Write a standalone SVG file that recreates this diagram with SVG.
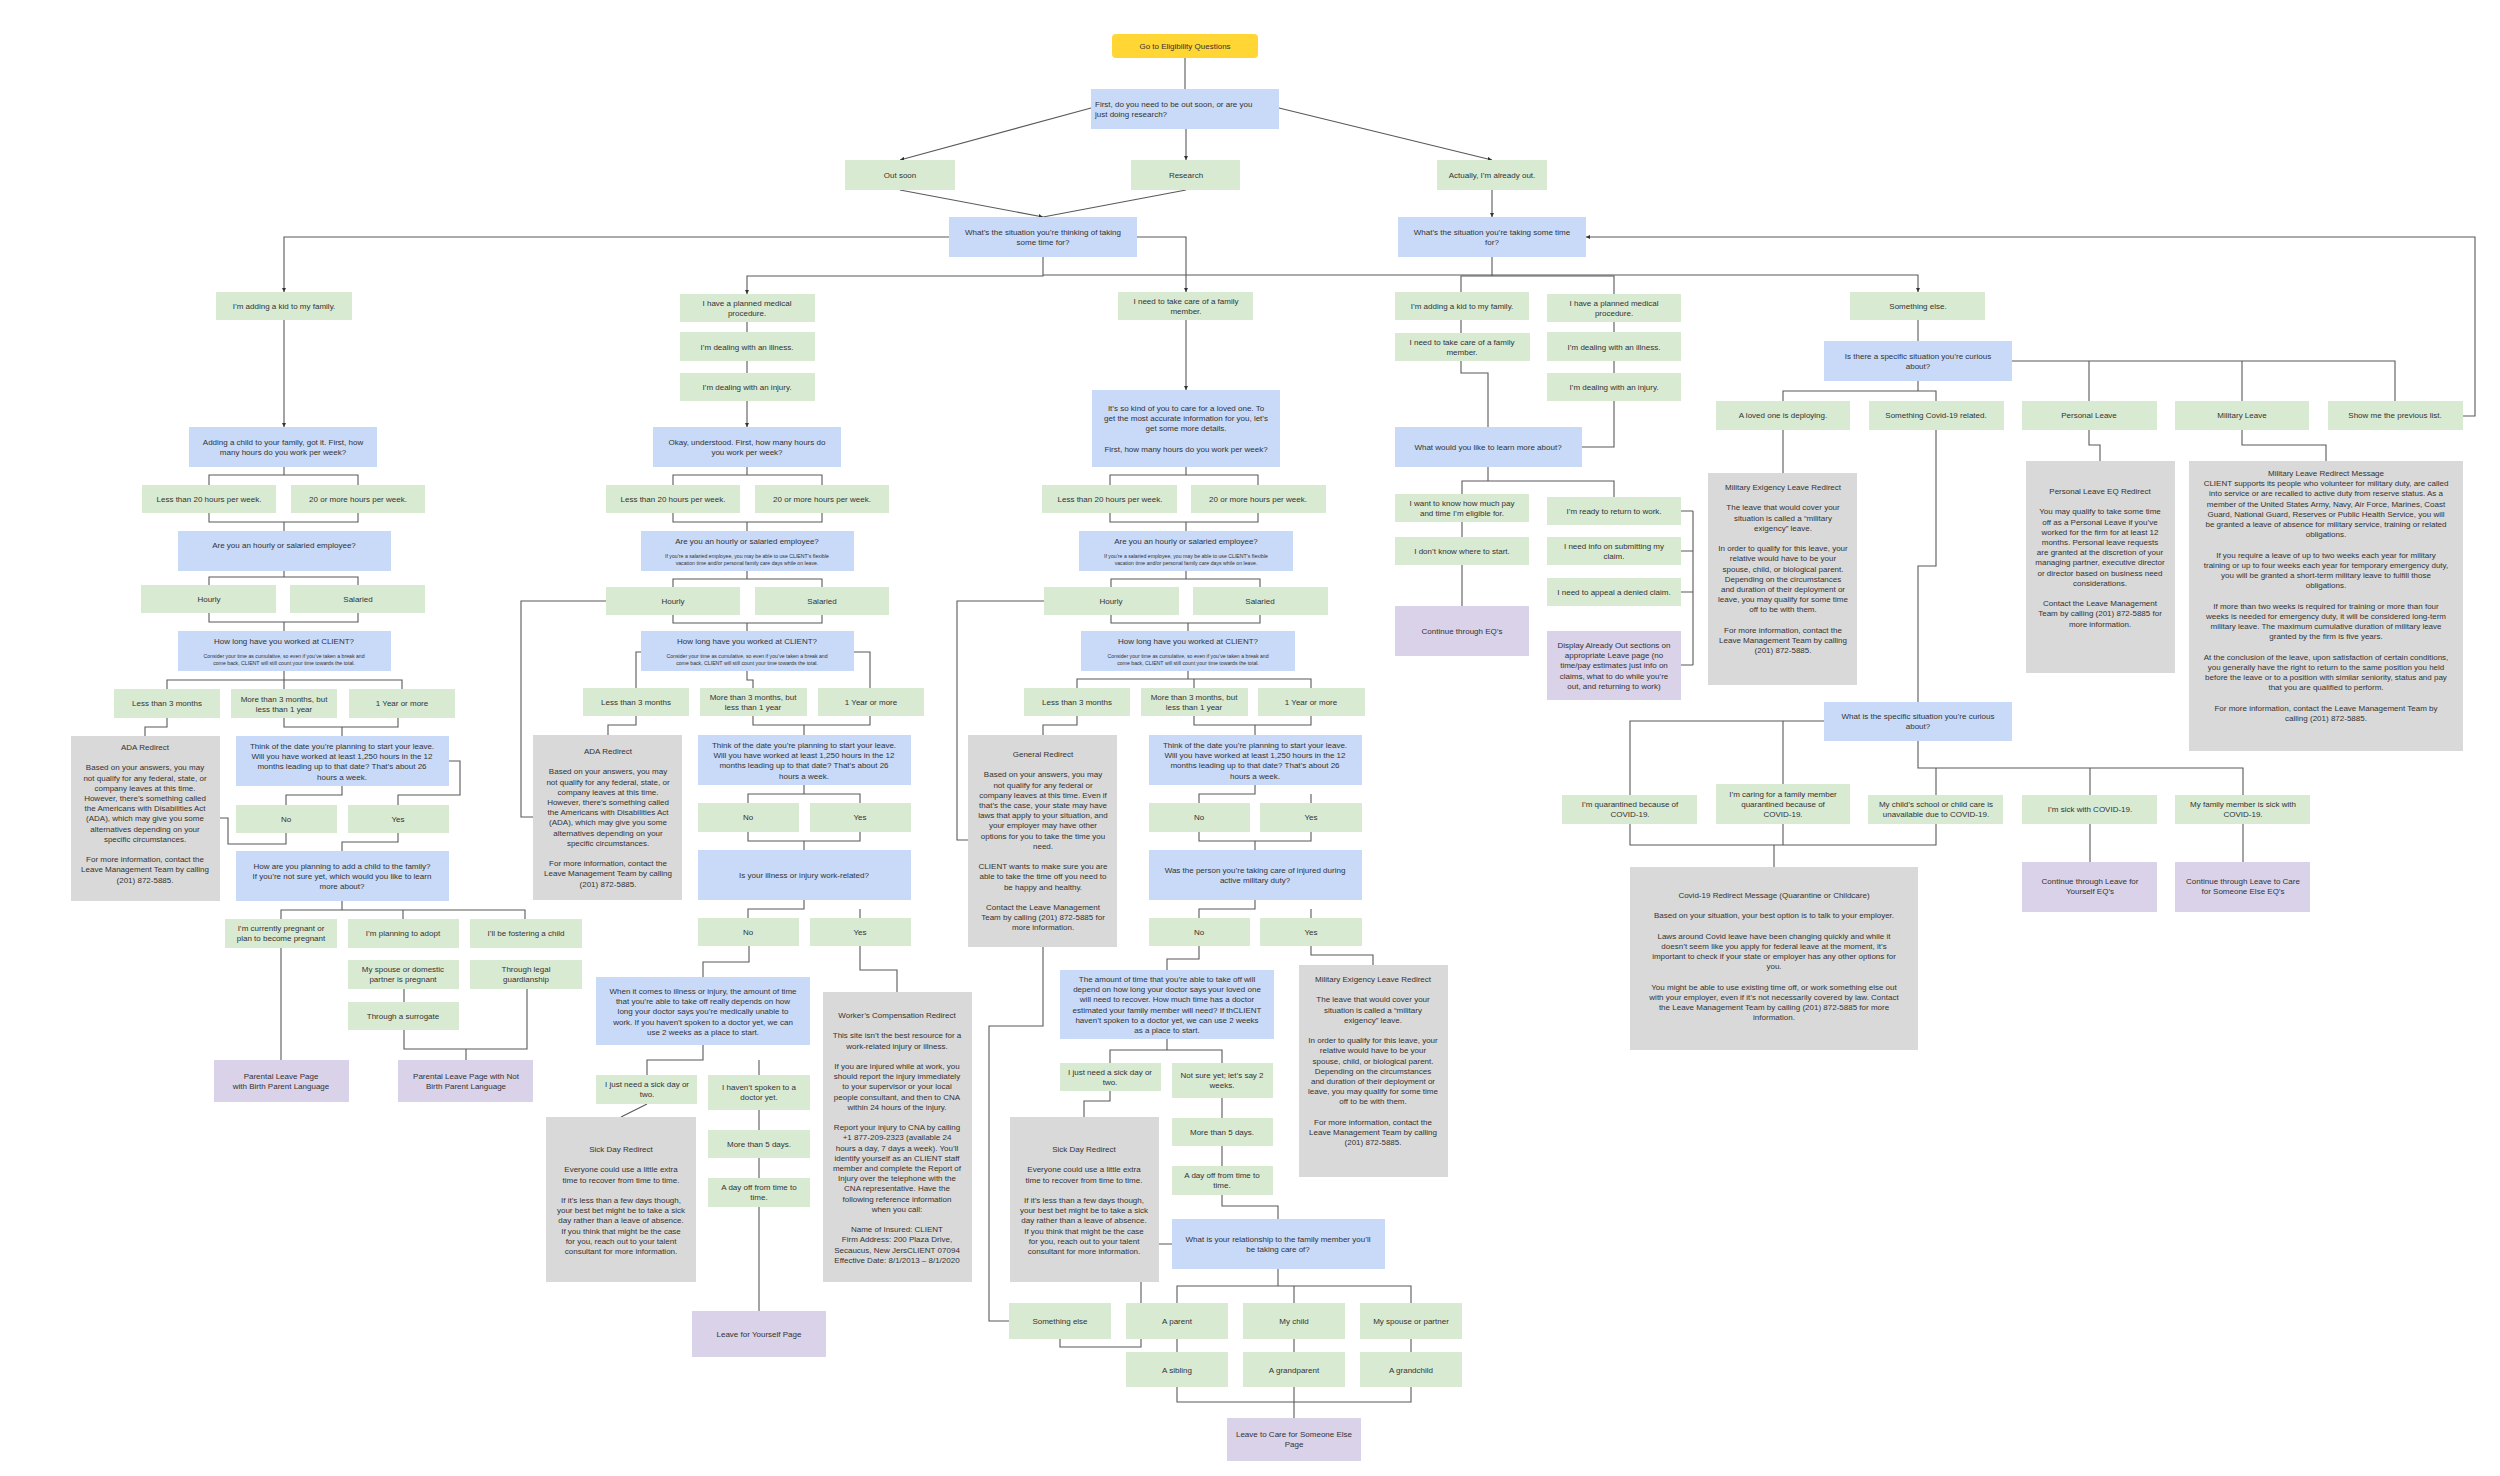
<svg xmlns="http://www.w3.org/2000/svg" width="2500" height="1476" viewBox="0 0 2500 1476">
<style>
.g{fill:#d9ead3}.b{fill:#c9daf8}.gr{fill:#d9d9d9}.p{fill:#d9d2e9}.y{fill:#ffd633}
text{font-family:"Liberation Sans",Arial,sans-serif;font-size:8px;fill:#333;text-anchor:middle}
.s{font-size:5.2px}
.l{text-anchor:start}
.c path{fill:none;stroke:#595959;stroke-width:1.1}
</style>
<defs><marker id="a" viewBox="0 0 6 6" refX="6" refY="3" markerWidth="4" markerHeight="4" orient="auto"><path d="M0 0L6 3L0 6z" fill="#333"/></marker></defs>
<rect width="2500" height="1476" fill="#fff"/>
<g class="c">
<path d="M1185 58V89"/>
<path d="M1091 108L900 160" marker-end="url(#a)"/>
<path d="M1186 129V160" marker-end="url(#a)"/>
<path d="M1279 108L1492 160" marker-end="url(#a)"/>
<path d="M900 190L1043 217" marker-end="url(#a)"/>
<path d="M1186 190L1043 217"/>
<path d="M1492 190V217" marker-end="url(#a)"/>
<path d="M949 237H284V292" marker-end="url(#a)"/>
<path d="M1137 237H1186V292" marker-end="url(#a)"/>
<path d="M1043 257V276H747V294" marker-end="url(#a)"/>
<path d="M1043 275H1918V292" marker-end="url(#a)"/>
<path d="M1492 257V276M1461 292V276H1614V294"/>
<path d="M2463 416H2475V237H1586" marker-end="url(#a)"/>
<path d="M284 320V427" marker-end="url(#a)"/>
<path d="M284 467V475M209 485V475H358V485M209 513V522H358V513M284 522V531M284 571V577M209 585V577H358V585M209 613V622H358V613M284 622V631M284 671V680M167 689V680H402V689M284 680V689M167 718V727H145V736M284 718V727H398V718M342 727V736M342 786V795H286V805M449 761H460V795H398V805M286 833V844H228V818H220M398 833V842H342V851M342 901V910M281 919V910H525V919M403 910V919M281 948V1060M404 989V1002M404 1030V1049H527V989M466 1049V1060"/>
<path d="M747 322V332M747 361V373"/>
<path d="M747 401V427" marker-end="url(#a)"/>
<path d="M747 467V475M673 485V475H822V485M673 513V522H822V513M747 522V531M747 571V579M673 587V579H822V587M673 615V623H822V615M747 623V631M641 652H636V688M854 652H870V688M747 671V680H753V688M636 716V725H608V735M753 716V725H870V716M804 725V735M804 785V794H748V803M860 803V794H804M748 832V841H860V832M804 841V850M804 900V909H748V918M860 918V909M749 946V962H703V977M860 946V970H897V992M703 1045V1060H647V1075M759 1075V1060M647 1104L621 1117M759 1110V1130M759 1158V1178M759 1207V1311M606 601H521V817H533"/>
<path d="M1186 320V390" marker-end="url(#a)"/>
<path d="M1186 467V475M1110 485V475H1258V485M1110 513V522H1258V513M1186 522V531M1186 571V579M1111 587V579H1260V587M1111 615V623H1260V615M1188 623V631M1188 671V679M1077 688V679H1311V688M1194 679V688M1077 716V725H1043V735M1194 716V725H1311V716M1255 725V735M1255 785V794H1199V803M1311 803V794M1199 832V841H1311V832M1255 841V850M1255 900V909H1199V918M1311 918V909M1199 946V959H1167V970M1311 946V955H1373V965M1167 1039V1050H1110V1063M1222 1063V1050H1167M1110 1091V1101H1084V1117M1222 1098V1118M1222 1146V1166M1222 1195V1206H1278V1219M1159 1244H1172M1141 1282V1303M1060 1339V1347H1141V1339M1043 947V1026H989V1321H1009M1278 1269V1286H1177V1303M1294 1286V1303M1411 1303V1286H1278M1177 1339V1352M1294 1339V1352M1411 1339V1352M1177 1387V1402H1411V1387M1294 1387V1418M1044 601H957V840H968"/>
<path d="M1461 320V333M1461 361V373H1488V427M1614 322V332M1614 361V373M1614 401V447H1582M1488 467V481H1462V494M1488 481H1614V497M1462 522V537M1462 565V606M1681 511H1693M1681 551H1693M1681 592H1693M1681 665H1693M1693 511V665"/>
<path d="M1918 320V341M1918 381V391H1783V401M1918 391H1936V401M2012 361H2395V401M2089 361V401M2242 361V401M1783 430V473M2089 430V445H2100V461M2242 430V445H2326V461M1936 430V566H1918V702M1824 721H1630V795M1783 721V784M1918 741V768H2243V795M1936 768V795M2090 768V795M1630 824V845H1936V824M1783 824V845M1774 845V867M2090 824V862M2243 824V862"/>
</g>

<g id="go"><rect class="y" x="1112" y="34" width="146" height="24" rx="4"/><text x="1185" y="49">Go to Eligibility Questions</text></g>
<g id="first"><rect class="b" x="1091" y="89" width="188" height="40"/><text class="l" x="1095" y="107">First, do you need to be out soon, or are you</text><text class="l" x="1095" y="117">just doing research?</text></g>
<g id="outsoon"><rect class="g" x="845" y="160" width="110" height="30"/><text x="900" y="178">Out soon</text></g>
<g id="research"><rect class="g" x="1131" y="160" width="109" height="30"/><text x="1186" y="178">Research</text></g>
<g id="actually"><rect class="g" x="1437" y="160" width="110" height="30"/><text x="1492" y="178">Actually, I’m already out.</text></g>
<g id="sitL"><rect class="b" x="949" y="217" width="188" height="40"/><text x="1043" y="235">What’s the situation you’re thinking of taking</text><text x="1043" y="245">some time for?</text></g>
<g id="sitR"><rect class="b" x="1398" y="217" width="188" height="40"/><text x="1492" y="235">What’s the situation you’re taking some time</text><text x="1492" y="245">for?</text></g>

<!-- column 1 -->
<g id="kid1"><rect class="g" x="216" y="292" width="136" height="28"/><text x="284" y="309">I’m adding a kid to my family.</text></g>
<g id="add"><rect class="b" x="189" y="427" width="188" height="40"/><text x="283" y="445">Adding a child to your family, got it. First, how</text><text x="283" y="455">many hours do you work per week?</text></g>
<g id="lt20a"><rect class="g" x="142" y="485" width="134" height="28"/><text x="209" y="502">Less than 20 hours per week.</text></g>
<g id="ge20a"><rect class="g" x="291" y="485" width="134" height="28"/><text x="358" y="502">20 or more hours per week.</text></g>
<g id="hsa"><rect class="b" x="178" y="531" width="213" height="40"/><text x="284" y="548">Are you an hourly or salaried employee?</text></g>
<g id="hra"><rect class="g" x="141" y="585" width="135" height="28"/><text x="209" y="602">Hourly</text></g>
<g id="sala"><rect class="g" x="290" y="585" width="135" height="28"/><text x="358" y="602">Salaried</text></g>
<g id="hla"><rect class="b" x="178" y="631" width="213" height="40"/><text x="284" y="644">How long have you worked at CLIENT?</text><text class="s" x="284" y="658">Consider your time as cumulative, so even if you’ve taken a break and</text><text class="s" x="284" y="665">come back, CLIENT will still count your time towards the total.</text></g>
<g id="lt3a"><rect class="g" x="114" y="689" width="106" height="29"/><text x="167" y="706">Less than 3 months</text></g>
<g id="m3a"><rect class="g" x="231" y="689" width="106" height="29"/><text x="284" y="702">More than 3 months, but</text><text x="284" y="712">less than 1 year</text></g>
<g id="y1a"><rect class="g" x="349" y="689" width="106" height="29"/><text x="402" y="706">1 Year or more</text></g>
<g id="thinka"><rect class="b" x="236" y="736" width="213" height="50"/><text x="342" y="749"><tspan x="342">Think of the date you’re planning to start your leave.</tspan><tspan x="342" dy="10.2">Will you have worked at least 1,250 hours in the 12</tspan><tspan x="342" dy="10.2">months leading up to that date? That’s about 26</tspan><tspan x="342" dy="10.2">hours a week.</tspan></text></g>
<g id="adaa"><rect class="gr" x="71" y="736" width="149" height="165"/><text x="145" y="750"><tspan x="145">ADA Redirect</tspan><tspan x="145" dy="20.4">Based on your answers, you may</tspan><tspan x="145" dy="10.2">not qualify for any federal, state, or</tspan><tspan x="145" dy="10.2">company leaves at this time.</tspan><tspan x="145" dy="10.2">However, there’s something called</tspan><tspan x="145" dy="10.2">the Americans with Disabilities Act</tspan><tspan x="145" dy="10.2">(ADA), which may give you some</tspan><tspan x="145" dy="10.2">alternatives depending on your</tspan><tspan x="145" dy="10.2">specific circumstances.</tspan><tspan x="145" dy="20.4">For more information, contact the</tspan><tspan x="145" dy="10.2">Leave Management Team by calling</tspan><tspan x="145" dy="10.2">(201) 872-5885.</tspan></text></g>
<g id="noa"><rect class="g" x="236" y="805" width="101" height="28"/><text x="286" y="822">No</text></g>
<g id="yesa"><rect class="g" x="348" y="805" width="101" height="28"/><text x="398" y="822">Yes</text></g>
<g id="plana"><rect class="b" x="236" y="851" width="213" height="50"/><text x="342" y="869"><tspan x="342">How are you planning to add a child to the family?</tspan><tspan x="342" dy="10.2">If you’re not sure yet, which would you like to learn</tspan><tspan x="342" dy="10.2">more about?</tspan></text></g>
<g id="preg"><rect class="g" x="225" y="919" width="112" height="29"/><text x="281" y="931">I’m currently pregnant or</text><text x="281" y="941">plan to become pregnant</text></g>
<g id="adopt"><rect class="g" x="348" y="919" width="111" height="29"/><text x="403" y="936">I’m planning to adopt</text></g>
<g id="foster"><rect class="g" x="470" y="919" width="112" height="29"/><text x="526" y="936">I’ll be fostering a child</text></g>
<g id="spouse"><rect class="g" x="348" y="960" width="111" height="29"/><text x="403" y="972">My spouse or domestic</text><text x="403" y="982">partner is pregnant</text></g>
<g id="legal"><rect class="g" x="470" y="960" width="112" height="29"/><text x="526" y="972">Through legal</text><text x="526" y="982">guardianship</text></g>
<g id="surr"><rect class="g" x="348" y="1002" width="111" height="28"/><text x="403" y="1019">Through a surrogate</text></g>
<g id="pbirth"><rect class="p" x="214" y="1060" width="135" height="42"/><text x="281" y="1079">Parental Leave Page</text><text x="281" y="1089">with Birth Parent Language</text></g>
<g id="pnot"><rect class="p" x="398" y="1060" width="135" height="42"/><text x="466" y="1079">Parental Leave Page with Not</text><text x="466" y="1089">Birth Parent Language</text></g>

<!-- column 2 -->
<g id="med2"><rect class="g" x="680" y="294" width="135" height="28"/><text x="747" y="306">I have a planned medical</text><text x="747" y="316">procedure.</text></g>
<g id="ill2"><rect class="g" x="680" y="332" width="135" height="29"/><text x="747" y="350">I’m dealing with an illness.</text></g>
<g id="inj2"><rect class="g" x="680" y="373" width="135" height="28"/><text x="747" y="390">I’m dealing with an injury.</text></g>
<g id="ok2"><rect class="b" x="653" y="427" width="188" height="40"/><text x="747" y="445">Okay, understood. First, how many hours do</text><text x="747" y="455">you work per week?</text></g>
<g id="lt20b"><rect class="g" x="606" y="485" width="134" height="28"/><text x="673" y="502">Less than 20 hours per week.</text></g>
<g id="ge20b"><rect class="g" x="755" y="485" width="134" height="28"/><text x="822" y="502">20 or more hours per week.</text></g>
<g id="hsb"><rect class="b" x="641" y="531" width="213" height="40"/><text x="747" y="544">Are you an hourly or salaried employee?</text><text class="s" x="747" y="558">If you’re a salaried employee, you may be able to use CLIENT’s flexible</text><text class="s" x="747" y="565">vacation time and/or personal family care days while on leave.</text></g>
<g id="hrb"><rect class="g" x="606" y="587" width="134" height="28"/><text x="673" y="604">Hourly</text></g>
<g id="salb"><rect class="g" x="755" y="587" width="134" height="28"/><text x="822" y="604">Salaried</text></g>
<g id="hlb"><rect class="b" x="641" y="631" width="213" height="40"/><text x="747" y="644">How long have you worked at CLIENT?</text><text class="s" x="747" y="658">Consider your time as cumulative, so even if you’ve taken a break and</text><text class="s" x="747" y="665">come back, CLIENT will still count your time towards the total.</text></g>
<g id="lt3b"><rect class="g" x="583" y="688" width="106" height="28"/><text x="636" y="705">Less than 3 months</text></g>
<g id="m3b"><rect class="g" x="700" y="688" width="107" height="28"/><text x="753" y="700">More than 3 months, but</text><text x="753" y="710">less than 1 year</text></g>
<g id="y1b"><rect class="g" x="818" y="688" width="106" height="28"/><text x="871" y="705">1 Year or more</text></g>
<g id="adab"><rect class="gr" x="533" y="735" width="149" height="165"/><text x="608" y="754"><tspan x="608">ADA Redirect</tspan><tspan x="608" dy="20.4">Based on your answers, you may</tspan><tspan x="608" dy="10.2">not qualify for any federal, state, or</tspan><tspan x="608" dy="10.2">company leaves at this time.</tspan><tspan x="608" dy="10.2">However, there’s something called</tspan><tspan x="608" dy="10.2">the Americans with Disabilities Act</tspan><tspan x="608" dy="10.2">(ADA), which may give you some</tspan><tspan x="608" dy="10.2">alternatives depending on your</tspan><tspan x="608" dy="10.2">specific circumstances.</tspan><tspan x="608" dy="20.4">For more information, contact the</tspan><tspan x="608" dy="10.2">Leave Management Team by calling</tspan><tspan x="608" dy="10.2">(201) 872-5885.</tspan></text></g>
<g id="thinkb"><rect class="b" x="698" y="735" width="213" height="50"/><text x="804" y="748"><tspan x="804">Think of the date you’re planning to start your leave.</tspan><tspan x="804" dy="10.2">Will you have worked at least 1,250 hours in the 12</tspan><tspan x="804" dy="10.2">months leading up to that date? That’s about 26</tspan><tspan x="804" dy="10.2">hours a week.</tspan></text></g>
<g id="nob"><rect class="g" x="698" y="803" width="101" height="29"/><text x="748" y="820">No</text></g>
<g id="yesb"><rect class="g" x="810" y="803" width="101" height="29"/><text x="860" y="820">Yes</text></g>
<g id="wrb"><rect class="b" x="698" y="850" width="213" height="50"/><text x="804" y="878">Is your illness or injury work-related?</text></g>
<g id="no2b"><rect class="g" x="698" y="918" width="101" height="28"/><text x="748" y="935">No</text></g>
<g id="yes2b"><rect class="g" x="810" y="918" width="101" height="28"/><text x="860" y="935">Yes</text></g>
<g id="when"><rect class="b" x="596" y="977" width="214" height="68"/><text x="703" y="994"><tspan x="703">When it comes to illness or injury, the amount of time</tspan><tspan x="703" dy="10.2">that you’re able to take off really depends on how</tspan><tspan x="703" dy="10.2">long your doctor says you’re medically unable to</tspan><tspan x="703" dy="10.2">work. If you haven’t spoken to a doctor yet, we can</tspan><tspan x="703" dy="10.2">use 2 weeks as a place to start.</tspan></text></g>
<g id="sick1b"><rect class="g" x="596" y="1075" width="101" height="29"/><text x="647" y="1087">I just need a sick day or</text><text x="647" y="1097">two.</text></g>
<g id="havent"><rect class="g" x="708" y="1075" width="102" height="35"/><text x="759" y="1090">I haven’t spoken to a</text><text x="759" y="1100">doctor yet.</text></g>
<g id="m5b"><rect class="g" x="708" y="1130" width="102" height="28"/><text x="759" y="1147">More than 5 days.</text></g>
<g id="dayb"><rect class="g" x="708" y="1178" width="102" height="29"/><text x="759" y="1190">A day off from time to</text><text x="759" y="1200">time.</text></g>
<g id="lfy"><rect class="p" x="692" y="1311" width="134" height="46"/><text x="759" y="1337">Leave for Yourself Page</text></g>
<g id="sdr1"><rect class="gr" x="546" y="1117" width="150" height="165"/><text x="621" y="1152"><tspan x="621">Sick Day Redirect</tspan><tspan x="621" dy="20.4">Everyone could use a little extra</tspan><tspan x="621" dy="10.2">time to recover from time to time.</tspan><tspan x="621" dy="20.4">If it’s less than a few days though,</tspan><tspan x="621" dy="10.2">your best bet might be to take a sick</tspan><tspan x="621" dy="10.2">day rather than a leave of absence.</tspan><tspan x="621" dy="10.2">If you think that might be the case</tspan><tspan x="621" dy="10.2">for you, reach out to your talent</tspan><tspan x="621" dy="10.2">consultant for more information.</tspan></text></g>
<g id="wc"><rect class="gr" x="823" y="992" width="149" height="290"/><text x="897" y="1018"><tspan x="897">Worker’s Compensation Redirect</tspan><tspan x="897" dy="20.4">This site isn’t the best resource for a</tspan><tspan x="897" dy="10.2">work-related injury or illness.</tspan><tspan x="897" dy="20.4">If you are injured while at work, you</tspan><tspan x="897" dy="10.2">should report the injury immediately</tspan><tspan x="897" dy="10.2">to your supervisor or your local</tspan><tspan x="897" dy="10.2">people consultant, and then to CNA</tspan><tspan x="897" dy="10.2">within 24 hours of the injury.</tspan><tspan x="897" dy="20.4">Report your injury to CNA by calling</tspan><tspan x="897" dy="10.2">+1 877-209-2323 (available 24</tspan><tspan x="897" dy="10.2">hours a day, 7 days a week). You’ll</tspan><tspan x="897" dy="10.2">identify yourself as an CLIENT staff</tspan><tspan x="897" dy="10.2">member and complete the Report of</tspan><tspan x="897" dy="10.2">Injury over the telephone with the</tspan><tspan x="897" dy="10.2">CNA representative. Have the</tspan><tspan x="897" dy="10.2">following reference information</tspan><tspan x="897" dy="10.2">when you call:</tspan><tspan x="897" dy="20.4">Name of Insured: CLIENT</tspan><tspan x="897" dy="10.2">Firm Address: 200 Plaza Drive,</tspan><tspan x="897" dy="10.2">Secaucus, New JersCLIENT 07094</tspan><tspan x="897" dy="10.2">Effective Date: 8/1/2013 – 8/1/2020</tspan></text></g>

<!-- column 3 -->
<g id="care3"><rect class="g" x="1118" y="292" width="135" height="28"/><text x="1186" y="304">I need to take care of a family</text><text x="1186" y="314">member.</text></g>
<g id="kind"><rect class="b" x="1092" y="390" width="188" height="77"/><text x="1186" y="411"><tspan x="1186">It’s so kind of you to care for a loved one. To</tspan><tspan x="1186" dy="10.2">get the most accurate information for you, let’s</tspan><tspan x="1186" dy="10.2">get some more details.</tspan><tspan x="1186" dy="20.4">First, how many hours do you work per week?</tspan></text></g>
<g id="lt20c"><rect class="g" x="1042" y="485" width="135" height="28"/><text x="1110" y="502">Less than 20 hours per week.</text></g>
<g id="ge20c"><rect class="g" x="1191" y="485" width="135" height="28"/><text x="1258" y="502">20 or more hours per week.</text></g>
<g id="hsc"><rect class="b" x="1079" y="531" width="214" height="40"/><text x="1186" y="544">Are you an hourly or salaried employee?</text><text class="s" x="1186" y="558">If you’re a salaried employee, you may be able to use CLIENT’s flexible</text><text class="s" x="1186" y="565">vacation time and/or personal family care days while on leave.</text></g>
<g id="hrc"><rect class="g" x="1044" y="587" width="135" height="28"/><text x="1111" y="604">Hourly</text></g>
<g id="salc"><rect class="g" x="1193" y="587" width="135" height="28"/><text x="1260" y="604">Salaried</text></g>
<g id="hlc"><rect class="b" x="1081" y="631" width="214" height="40"/><text x="1188" y="644">How long have you worked at CLIENT?</text><text class="s" x="1188" y="658">Consider your time as cumulative, so even if you’ve taken a break and</text><text class="s" x="1188" y="665">come back, CLIENT will still count your time towards the total.</text></g>
<g id="lt3c"><rect class="g" x="1024" y="688" width="106" height="28"/><text x="1077" y="705">Less than 3 months</text></g>
<g id="m3c"><rect class="g" x="1141" y="688" width="107" height="28"/><text x="1194" y="700">More than 3 months, but</text><text x="1194" y="710">less than 1 year</text></g>
<g id="y1c"><rect class="g" x="1258" y="688" width="107" height="28"/><text x="1311" y="705">1 Year or more</text></g>
<g id="gen"><rect class="gr" x="968" y="735" width="149" height="212"/><text x="1043" y="757"><tspan x="1043">General Redirect</tspan><tspan x="1043" dy="20.4">Based on your answers, you may</tspan><tspan x="1043" dy="10.2">not qualify for any federal or</tspan><tspan x="1043" dy="10.2">company leaves at this time. Even if</tspan><tspan x="1043" dy="10.2">that’s the case, your state may have</tspan><tspan x="1043" dy="10.2">laws that apply to your situation, and</tspan><tspan x="1043" dy="10.2">your employer may have other</tspan><tspan x="1043" dy="10.2">options for you to take the time you</tspan><tspan x="1043" dy="10.2">need.</tspan><tspan x="1043" dy="20.4">CLIENT wants to make sure you are</tspan><tspan x="1043" dy="10.2">able to take the time off you need to</tspan><tspan x="1043" dy="10.2">be happy and healthy.</tspan><tspan x="1043" dy="20.4">Contact the Leave Management</tspan><tspan x="1043" dy="10.2">Team by calling (201) 872-5885 for</tspan><tspan x="1043" dy="10.2">more information.</tspan></text></g>
<g id="thinkc"><rect class="b" x="1149" y="735" width="213" height="50"/><text x="1255" y="748"><tspan x="1255">Think of the date you’re planning to start your leave.</tspan><tspan x="1255" dy="10.2">Will you have worked at least 1,250 hours in the 12</tspan><tspan x="1255" dy="10.2">months leading up to that date? That’s about 26</tspan><tspan x="1255" dy="10.2">hours a week.</tspan></text></g>
<g id="noc"><rect class="g" x="1149" y="803" width="101" height="29"/><text x="1199" y="820">No</text></g>
<g id="yesc"><rect class="g" x="1260" y="803" width="102" height="29"/><text x="1311" y="820">Yes</text></g>
<g id="was"><rect class="b" x="1149" y="850" width="213" height="50"/><text x="1255" y="873">Was the person you’re taking care of injured during</text><text x="1255" y="883">active military duty?</text></g>
<g id="no2c"><rect class="g" x="1149" y="918" width="101" height="28"/><text x="1199" y="935">No</text></g>
<g id="yes2c"><rect class="g" x="1260" y="918" width="102" height="28"/><text x="1311" y="935">Yes</text></g>
<g id="amt"><rect class="b" x="1060" y="970" width="214" height="69"/><text x="1167" y="982"><tspan x="1167">The amount of time that you’re able to take off will</tspan><tspan x="1167" dy="10.2">depend on how long your doctor says your loved one</tspan><tspan x="1167" dy="10.2">will need to recover. How much time has a doctor</tspan><tspan x="1167" dy="10.2">estimated your family member will need? If thCLIENT</tspan><tspan x="1167" dy="10.2">haven’t spoken to a doctor yet, we can use 2 weeks</tspan><tspan x="1167" dy="10.2">as a place to start.</tspan></text></g>
<g id="sick1c"><rect class="g" x="1060" y="1063" width="101" height="28"/><text x="1110" y="1075">I just need a sick day or</text><text x="1110" y="1085">two.</text></g>
<g id="notsure"><rect class="g" x="1172" y="1063" width="101" height="35"/><text x="1222" y="1078">Not sure yet; let’s say 2</text><text x="1222" y="1088">weeks.</text></g>
<g id="m5c"><rect class="g" x="1172" y="1118" width="101" height="28"/><text x="1222" y="1135">More than 5 days.</text></g>
<g id="dayc"><rect class="g" x="1172" y="1166" width="101" height="29"/><text x="1222" y="1178">A day off from time to</text><text x="1222" y="1188">time.</text></g>
<g id="sdr2"><rect class="gr" x="1010" y="1117" width="149" height="165"/><text x="1084" y="1152"><tspan x="1084">Sick Day Redirect</tspan><tspan x="1084" dy="20.4">Everyone could use a little extra</tspan><tspan x="1084" dy="10.2">time to recover from time to time.</tspan><tspan x="1084" dy="20.4">If it’s less than a few days though,</tspan><tspan x="1084" dy="10.2">your best bet might be to take a sick</tspan><tspan x="1084" dy="10.2">day rather than a leave of absence.</tspan><tspan x="1084" dy="10.2">If you think that might be the case</tspan><tspan x="1084" dy="10.2">for you, reach out to your talent</tspan><tspan x="1084" dy="10.2">consultant for more information.</tspan></text></g>
<g id="mex2"><rect class="gr" x="1299" y="965" width="149" height="212"/><text x="1373" y="982"><tspan x="1373">Military Exigency Leave Redirect</tspan><tspan x="1373" dy="20.4">The leave that would cover your</tspan><tspan x="1373" dy="10.2">situation is called a “military</tspan><tspan x="1373" dy="10.2">exigency” leave.</tspan><tspan x="1373" dy="20.4">In order to qualify for this leave, your</tspan><tspan x="1373" dy="10.2">relative would have to be your</tspan><tspan x="1373" dy="10.2">spouse, child, or biological parent.</tspan><tspan x="1373" dy="10.2">Depending on the circumstances</tspan><tspan x="1373" dy="10.2">and duration of their deployment or</tspan><tspan x="1373" dy="10.2">leave, you may qualify for some time</tspan><tspan x="1373" dy="10.2">off to be with them.</tspan><tspan x="1373" dy="20.4">For more information, contact the</tspan><tspan x="1373" dy="10.2">Leave Management Team by calling</tspan><tspan x="1373" dy="10.2">(201) 872-5885.</tspan></text></g>
<g id="rel"><rect class="b" x="1172" y="1219" width="213" height="50"/><text x="1278" y="1242">What is your relationship to the family member you’ll</text><text x="1278" y="1252">be taking care of?</text></g>
<g id="selse"><rect class="g" x="1009" y="1303" width="102" height="36"/><text x="1060" y="1324">Something else</text></g>
<g id="parent"><rect class="g" x="1126" y="1303" width="102" height="36"/><text x="1177" y="1324">A parent</text></g>
<g id="child"><rect class="g" x="1243" y="1303" width="102" height="36"/><text x="1294" y="1324">My child</text></g>
<g id="spouse2"><rect class="g" x="1360" y="1303" width="102" height="36"/><text x="1411" y="1324">My spouse or partner</text></g>
<g id="sibling"><rect class="g" x="1126" y="1352" width="102" height="35"/><text x="1177" y="1373">A sibling</text></g>
<g id="grandparent"><rect class="g" x="1243" y="1352" width="102" height="35"/><text x="1294" y="1373">A grandparent</text></g>
<g id="grandchild"><rect class="g" x="1360" y="1352" width="102" height="35"/><text x="1411" y="1373">A grandchild</text></g>
<g id="ltc"><rect class="p" x="1227" y="1418" width="134" height="43"/><text x="1294" y="1437">Leave to Care for Someone Else</text><text x="1294" y="1447">Page</text></g>

<!-- right: already out -->
<g id="kidR"><rect class="g" x="1395" y="292" width="134" height="28"/><text x="1462" y="309">I’m adding a kid to my family.</text></g>
<g id="careR"><rect class="g" x="1395" y="333" width="135" height="28"/><text x="1462" y="345">I need to take care of a family</text><text x="1462" y="355">member.</text></g>
<g id="medR"><rect class="g" x="1547" y="294" width="134" height="28"/><text x="1614" y="306">I have a planned medical</text><text x="1614" y="316">procedure.</text></g>
<g id="illR"><rect class="g" x="1547" y="332" width="134" height="29"/><text x="1614" y="350">I’m dealing with an illness.</text></g>
<g id="injR"><rect class="g" x="1547" y="373" width="134" height="28"/><text x="1614" y="390">I’m dealing with an injury.</text></g>
<g id="learn"><rect class="b" x="1395" y="427" width="187" height="40"/><text x="1488" y="450">What would you like to learn more about?</text></g>
<g id="want"><rect class="g" x="1395" y="494" width="134" height="28"/><text x="1462" y="506">I want to know how much pay</text><text x="1462" y="516">and time I’m eligible for.</text></g>
<g id="dont"><rect class="g" x="1395" y="537" width="134" height="28"/><text x="1462" y="554">I don’t know where to start.</text></g>
<g id="cont"><rect class="p" x="1395" y="606" width="134" height="50"/><text x="1462" y="634">Continue through EQ’s</text></g>
<g id="ready"><rect class="g" x="1547" y="497" width="134" height="28"/><text x="1614" y="514">I’m ready to return to work.</text></g>
<g id="info"><rect class="g" x="1547" y="537" width="134" height="28"/><text x="1614" y="549">I need info on submitting my</text><text x="1614" y="559">claim.</text></g>
<g id="appeal"><rect class="g" x="1547" y="578" width="134" height="28"/><text x="1614" y="595">I need to appeal a denied claim.</text></g>
<g id="display"><rect class="p" x="1547" y="631" width="134" height="69"/><text x="1614" y="648"><tspan x="1614">Display Already Out sections on</tspan><tspan x="1614" dy="10.2">appropriate Leave page (no</tspan><tspan x="1614" dy="10.2">time/pay estimates just info on</tspan><tspan x="1614" dy="10.2">claims, what to do while you’re</tspan><tspan x="1614" dy="10.2">out, and returning to work)</tspan></text></g>

<!-- something else -->
<g id="selse2"><rect class="g" x="1850" y="292" width="135" height="28"/><text x="1918" y="309">Something else.</text></g>
<g id="isthere"><rect class="b" x="1824" y="341" width="188" height="40"/><text x="1918" y="359">Is there a specific situation you’re curious</text><text x="1918" y="369">about?</text></g>
<g id="loved"><rect class="g" x="1716" y="401" width="134" height="29"/><text x="1783" y="418">A loved one is deploying.</text></g>
<g id="covid"><rect class="g" x="1869" y="401" width="135" height="29"/><text x="1936" y="418">Something Covid-19 related.</text></g>
<g id="personal"><rect class="g" x="2022" y="401" width="135" height="29"/><text x="2089" y="418">Personal Leave</text></g>
<g id="military"><rect class="g" x="2175" y="401" width="134" height="29"/><text x="2242" y="418">Military Leave</text></g>
<g id="show"><rect class="g" x="2328" y="401" width="135" height="29"/><text x="2395" y="418">Show me the previous list.</text></g>
<g id="mex1"><rect class="gr" x="1708" y="473" width="149" height="212"/><text x="1783" y="490"><tspan x="1783">Military Exigency Leave Redirect</tspan><tspan x="1783" dy="20.4">The leave that would cover your</tspan><tspan x="1783" dy="10.2">situation is called a “military</tspan><tspan x="1783" dy="10.2">exigency” leave.</tspan><tspan x="1783" dy="20.4">In order to qualify for this leave, your</tspan><tspan x="1783" dy="10.2">relative would have to be your</tspan><tspan x="1783" dy="10.2">spouse, child, or biological parent.</tspan><tspan x="1783" dy="10.2">Depending on the circumstances</tspan><tspan x="1783" dy="10.2">and duration of their deployment or</tspan><tspan x="1783" dy="10.2">leave, you may qualify for some time</tspan><tspan x="1783" dy="10.2">off to be with them.</tspan><tspan x="1783" dy="20.4">For more information, contact the</tspan><tspan x="1783" dy="10.2">Leave Management Team by calling</tspan><tspan x="1783" dy="10.2">(201) 872-5885.</tspan></text></g>
<g id="pers"><rect class="gr" x="2026" y="461" width="149" height="212"/><text x="2100" y="494"><tspan x="2100">Personal Leave EQ Redirect</tspan><tspan x="2100" dy="20.4">You may qualify to take some time</tspan><tspan x="2100" dy="10.2">off as a Personal Leave if you’ve</tspan><tspan x="2100" dy="10.2">worked for the firm for at least 12</tspan><tspan x="2100" dy="10.2">months. Personal leave requests</tspan><tspan x="2100" dy="10.2">are granted at the discretion of your</tspan><tspan x="2100" dy="10.2">managing partner, executive director</tspan><tspan x="2100" dy="10.2">or director  based on business need</tspan><tspan x="2100" dy="10.2">considerations.</tspan><tspan x="2100" dy="20.4">Contact the Leave Management</tspan><tspan x="2100" dy="10.2">Team by calling (201) 872-5885 for</tspan><tspan x="2100" dy="10.2">more information.</tspan></text></g>
<g id="mil"><rect class="gr" x="2189" y="461" width="274" height="290"/><text x="2326" y="476"><tspan x="2326">Military Leave Redirect Message</tspan><tspan x="2326" dy="10.2">CLIENT supports its people who volunteer for military duty, are called</tspan><tspan x="2326" dy="10.2">into service or are recalled to active duty from reserve status. As a</tspan><tspan x="2326" dy="10.2">member of the United States Army, Navy, Air Force, Marines, Coast</tspan><tspan x="2326" dy="10.2">Guard, National Guard, Reserves or Public Health Service, you will</tspan><tspan x="2326" dy="10.2">be granted a leave of absence for military service, training or related</tspan><tspan x="2326" dy="10.2">obligations.</tspan><tspan x="2326" dy="20.4">If you require a leave of up to two weeks each year for military</tspan><tspan x="2326" dy="10.2">training or up to four weeks each year for temporary emergency duty,</tspan><tspan x="2326" dy="10.2">you will be granted a short-term military leave to fulfill those</tspan><tspan x="2326" dy="10.2">obligations.</tspan><tspan x="2326" dy="20.4">If more than two weeks is required for training or more than four</tspan><tspan x="2326" dy="10.2">weeks is needed for emergency duty, it will be considered long-term</tspan><tspan x="2326" dy="10.2">military leave. The maximum cumulative duration of military leave</tspan><tspan x="2326" dy="10.2">granted by the firm is five years.</tspan><tspan x="2326" dy="20.4">At the conclusion of the leave, upon satisfaction of certain conditions,</tspan><tspan x="2326" dy="10.2">you generally have the right to return to the same position you held</tspan><tspan x="2326" dy="10.2">before the leave or to a position with similar seniority, status and pay</tspan><tspan x="2326" dy="10.2">that you are qualified to perform.</tspan><tspan x="2326" dy="20.4">For more information, contact the Leave Management Team by</tspan><tspan x="2326" dy="10.2">calling (201) 872-5885.</tspan></text></g>
<g id="whatspec"><rect class="b" x="1824" y="702" width="188" height="39"/><text x="1918" y="719">What is the specific situation you’re curious</text><text x="1918" y="729">about?</text></g>
<g id="quar"><rect class="g" x="1562" y="795" width="135" height="29"/><text x="1630" y="807">I’m quarantined because of</text><text x="1630" y="817">COVID-19.</text></g>
<g id="caring"><rect class="g" x="1716" y="784" width="134" height="40"/><text x="1783" y="797"><tspan x="1783">I’m caring for a family member</tspan><tspan x="1783" dy="10.2">quarantined because of</tspan><tspan x="1783" dy="10.2">COVID-19.</tspan></text></g>
<g id="school"><rect class="g" x="1868" y="795" width="135" height="29"/><text x="1936" y="807">My child’s school or child care is</text><text x="1936" y="817">unavailable due to COVID-19.</text></g>
<g id="sickc"><rect class="g" x="2022" y="795" width="135" height="29"/><text x="2090" y="812">I’m sick with COVID-19.</text></g>
<g id="famc"><rect class="g" x="2175" y="795" width="135" height="29"/><text x="2243" y="807">My family member is sick with</text><text x="2243" y="817">COVID-19.</text></g>
<g id="covred"><rect class="gr" x="1630" y="867" width="288" height="183"/><text x="1774" y="898"><tspan x="1774">Covid-19 Redirect Message (Quarantine or Childcare)</tspan><tspan x="1774" dy="20.4">Based on your situation, your best option is to talk to your employer.</tspan><tspan x="1774" dy="20.4">Laws around Covid leave have been changing quickly and while it</tspan><tspan x="1774" dy="10.2">doesn’t seem like you apply for federal leave at the moment, it’s</tspan><tspan x="1774" dy="10.2">important to check if your state or employer has any other options for</tspan><tspan x="1774" dy="10.2">you.</tspan><tspan x="1774" dy="20.4">You might be able to use existing time off, or work something else out</tspan><tspan x="1774" dy="10.2">with your employer, even if it’s not necessarily covered by law. Contact</tspan><tspan x="1774" dy="10.2">the Leave Management Team by calling (201) 872-5885 for more</tspan><tspan x="1774" dy="10.2">information.</tspan></text></g>
<g id="contY"><rect class="p" x="2022" y="862" width="135" height="50"/><text x="2090" y="884">Continue through Leave for</text><text x="2090" y="894">Yourself  EQ’s</text></g>
<g id="contC"><rect class="p" x="2175" y="862" width="135" height="50"/><text x="2243" y="884">Continue through Leave to Care</text><text x="2243" y="894">for Someone Else  EQ’s</text></g>
</svg>
